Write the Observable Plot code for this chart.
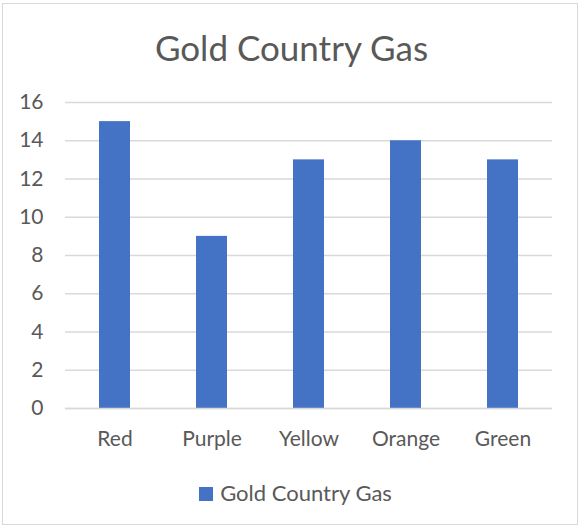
<!DOCTYPE html>
<html>
<head>
<meta charset="utf-8">
<script src="https://cdn.jsdelivr.net/npm/d3@7"></script>
<script src="https://cdn.jsdelivr.net/npm/@observablehq/plot@0.6"></script>
<style>
  body { margin: 0; background: #fff; }
  #frame { position: absolute; left: 2px; top: 3px; width: 576px; height: 522px; border: 1px solid #d9d9d9; box-sizing: border-box; }
  #title { position: absolute; left: 0; width: 583px; top: 25px; text-align: center; font-family: Lato, "Open Sans", sans-serif; font-size: 35px; line-height: 44px; color: #595959; }
  #chart { position: absolute; left: 0; top: 80px; }
  #legend { position: absolute; left: 4px; width: 583px; top: 480px; text-align: center; font-family: Lato, "Open Sans", sans-serif; font-size: 22px; line-height: 26px; color: #595959; }
  #legend .sw { display: inline-block; width: 14px; height: 14px; background: #4472C4; margin-right: 7px; vertical-align: 0px; }
</style>
</head>
<body>
<div id="frame"></div>
<div id="title">Gold Country Gas</div>
<div id="chart"></div>
<div id="legend"><span class="sw"></span>Gold Country Gas</div>
<script>
const categories = ["Red", "Purple", "Yellow", "Orange", "Green"];
const values = [15, 9, 13, 14, 13];
const yTicks = [0, 2, 4, 6, 8, 10, 12, 14, 16];
const seriesName = "Gold Country Gas";

const data = categories.map((c, i) => ({category: c, value: values[i]}));

const chart = Plot.plot({
  width: 583,
  height: 380,
  marginTop: 22,
  marginBottom: 52,
  marginLeft: 65,
  marginRight: 31,
  style: { fontFamily: "Lato, 'Open Sans', sans-serif", fontSize: "21px", color: "#595959", background: "transparent" },
  x: { domain: categories, paddingInner: 0.68, paddingOuter: 0.34, label: null, tickSize: 0, tickPadding: 23 },
  y: { domain: [0, 16], ticks: yTicks, label: null, tickSize: 0, tickPadding: 22 },
  marks: [
    Plot.ruleY(yTicks, { stroke: "#d9d9d9", strokeWidth: 1.5 }),
    Plot.barY(data, { x: "category", y: "value", fill: "#4472C4" }),
    Plot.ruleY([0], { stroke: "#d9d9d9", strokeWidth: 1.5 })
  ]
});
chart.querySelectorAll("text").forEach(t => t.setAttribute("fill", "#595959"));
document.getElementById("chart").appendChild(chart);
</script>
</body>
</html>
